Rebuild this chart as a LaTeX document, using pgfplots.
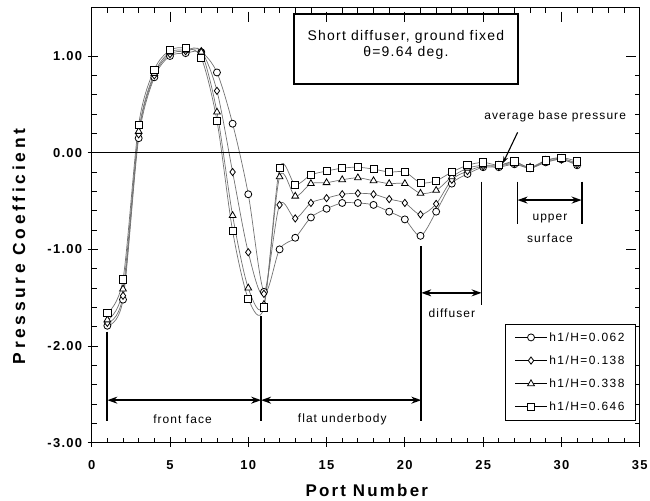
\documentclass[border=0pt]{standalone}
\usepackage{fontspec}
\setmainfont{Liberation Sans}[LetterSpace=9]
\newfontfamily\ticklbl{Liberation Sans}[LetterSpace=10]
\newfontfamily\xlbl{Liberation Sans}[LetterSpace=13]
\newfontfamily\ylbl{Liberation Sans}[LetterSpace=21]
\newfontfamily\legfont{Liberation Sans}[LetterSpace=12]
\usepackage{pgfplots}
\usepackage{pgfplotstable}
\pgfplotsset{compat=1.18}
\usetikzlibrary{arrows.meta}

\pgfplotstableread{
port a b c d
1  -1.79 -1.76 -1.73 -1.66
2  -1.52 -1.48 -1.41 -1.31
3   0.15  0.19  0.22  0.29
4   0.78  0.80  0.82  0.86
5   1.00  1.02  1.04  1.06
6   1.03  1.05  1.06  1.08
7   1.04  1.05  1.04  0.98
8   0.83  0.64  0.42  0.33
9   0.30 -0.20 -0.65 -0.81
10 -0.43 -1.03 -1.40 -1.51
11 -1.44 -1.46 -1.57 -1.60
12 -1.00 -0.54 -0.25 -0.16
13 -0.88 -0.68 -0.45 -0.33
14 -0.67 -0.52 -0.32 -0.23
15 -0.58 -0.47 -0.31 -0.19
16 -0.52 -0.43 -0.28 -0.16
17 -0.52 -0.42 -0.26 -0.15
18 -0.54 -0.43 -0.29 -0.17
19 -0.61 -0.48 -0.32 -0.20
20 -0.69 -0.52 -0.32 -0.20
21 -0.86 -0.64 -0.42 -0.31
22 -0.61 -0.53 -0.39 -0.29
23 -0.32 -0.28 -0.25 -0.20
24 -0.22 -0.19 -0.16 -0.13
25 -0.15 -0.14 -0.13 -0.10
26 -0.15 -0.14 -0.13 -0.13
27 -0.12 -0.11 -0.10 -0.09
28 -0.16 -0.16 -0.15 -0.16
29 -0.10 -0.09 -0.08 -0.08
30 -0.07 -0.07 -0.06 -0.05
31 -0.13 -0.12 -0.11 -0.09
}\cpdata

\begin{document}
\begin{tikzpicture}
\begin{axis}[
  width=548bp, height=435bp, scale only axis,
  xmin=0, xmax=35, ymin=-3, ymax=1.5,
  xtick={0,5,10,15,20,25,30,35},
  xticklabels={0,5,10,15,20,25,30,35},
  minor x tick num=4,
  ytick={-3,-2,-1,0,1},
  yticklabels={-3.00,-2.00,-1.00,0.00,1.00},
  minor y tick num=4,
  tick align=inside,
  major tick length=10bp, minor tick length=5bp,
  every major x tick/.append style={yshift=-4bp},
  every major y tick/.append style={xshift=-4bp},
  tick style={black, line width=0.8bp},
  axis line style={line width=0.8bp},
  ticklabel style={font=\ticklbl\bfseries\fontsize{13}{15}\selectfont},
  xticklabel style={anchor=base, yshift=-27bp},
  yticklabel style={anchor=east, xshift=-6bp},
  xlabel={Port Number},
  ylabel={Pressure Coefficient},
  xlabel style={font=\xlbl\bfseries\fontsize{17}{20}\selectfont, at={(axis description cs:0.502,-0.1248)}, anchor=base},
  ylabel style={font=\ylbl\bfseries\fontsize{17.5}{20}\selectfont, at={(axis description cs:-0.1217,0.451)}, anchor=base},
  legend style={at={(0.993,0.273)}, anchor=north east, draw=black, line width=0.8bp,
    font=\legfont\fontsize{12}{14}\selectfont, row sep=9bp, inner xsep=9bp, inner ysep=6bp},
  legend cell align=left,
  legend image code/.code={\draw[#1, black, line width=0.8bp, mark repeat=2, mark phase=2] plot coordinates {(0bp,0bp) (16bp,0bp) (32bp,0bp)};},
  ser/.style={color=black!55, line width=0.7bp, smooth, mark options={draw=black, fill=white, line width=0.8bp, solid}},
]
\addplot[ser, mark=*, mark size=3.5bp] table[x=port,y=a] {\cpdata};
\addlegendentry{h1/H=0.062}
\addplot[ser, mark=diamond*, mark size=3.6bp] table[x=port,y=b] {\cpdata};
\addlegendentry{h1/H=0.138}
\addplot[ser, mark=triangle*, mark size=3.9bp] table[x=port,y=c] {\cpdata};
\addlegendentry{h1/H=0.338}
\addplot[ser, mark=square*, mark size=3.6bp] table[x=port,y=d] {\cpdata};
\addlegendentry{h1/H=0.646}

% zero line
\draw[black, line width=1.2bp] (axis cs:0,0) -- (axis cs:35,0);

% title box
\draw[black, line width=2bp] (axis cs:12.92,1.433) rectangle (axis cs:27.2,0.709);
\node[font=\fontsize{14}{16}\selectfont, anchor=base] at (axis cs:20.07,1.157) {Short diffuser, ground fixed};
\node[font=\fontsize{14}{16}\selectfont, anchor=base] at (axis cs:20.07,0.99) {θ=9.64 deg.};

% region markers
\draw[black, line width=1.8bp] (axis cs:1,-1.85) -- (axis cs:1,-2.78);
\draw[black, line width=1.8bp] (axis cs:10.82,-1.69) -- (axis cs:10.82,-2.78);
\draw[black, line width=1.8bp] (axis cs:21.05,-0.97) -- (axis cs:21.05,-2.78);
\draw[black, line width=1.8bp] (axis cs:24.9,-0.30) -- (axis cs:24.9,-1.58);
\draw[black, line width=1.8bp] (axis cs:27.2,-0.30) -- (axis cs:27.2,-0.74);
\draw[black, line width=1.8bp] (axis cs:31.29,-0.30) -- (axis cs:31.29,-0.74);

\draw[black, line width=1.4bp, {Stealth[length=10bp,width=7bp]}-{Stealth[length=10bp,width=7bp]}] (axis cs:1,-2.56) -- (axis cs:10.82,-2.56);
\draw[black, line width=1.4bp, {Stealth[length=10bp,width=7bp]}-{Stealth[length=10bp,width=7bp]}] (axis cs:10.82,-2.56) -- (axis cs:21.05,-2.56);
\draw[black, line width=1.4bp, {Stealth[length=10bp,width=7bp]}-{Stealth[length=10bp,width=7bp]}] (axis cs:21.05,-1.45) -- (axis cs:24.9,-1.45);
\draw[black, line width=1.4bp, {Stealth[length=10bp,width=7bp]}-{Stealth[length=10bp,width=7bp]}] (axis cs:27.2,-0.49) -- (axis cs:31.29,-0.49);

\node[font=\fontsize{12}{14}\selectfont] at (axis cs:5.8,-2.76) {front face};
\node[font=\fontsize{12}{14}\selectfont] at (axis cs:16.0,-2.76) {flat underbody};
\node[font=\fontsize{12}{14}\selectfont] at (axis cs:23.0,-1.66) {diffuser};
\node[font=\fontsize{12}{14}\selectfont] at (axis cs:29.27,-0.68) {upper};
\node[font=\fontsize{12}{14}\selectfont] at (axis cs:29.27,-0.88) {surface};

\node[font=\fontsize{12}{14}\selectfont, anchor=base] at (axis cs:29.6,0.34) {average base pressure};
\draw[black, line width=1.1bp, -{Stealth[length=7bp,width=5bp]}] (axis cs:27.2,0.21) -- (axis cs:26.26,-0.11);
\end{axis}
\pgfresetboundingbox
\path[use as bounding box] (-91.7bp,-58.3bp) rectangle (558.3bp,442.7bp);
\end{tikzpicture}
\end{document}
